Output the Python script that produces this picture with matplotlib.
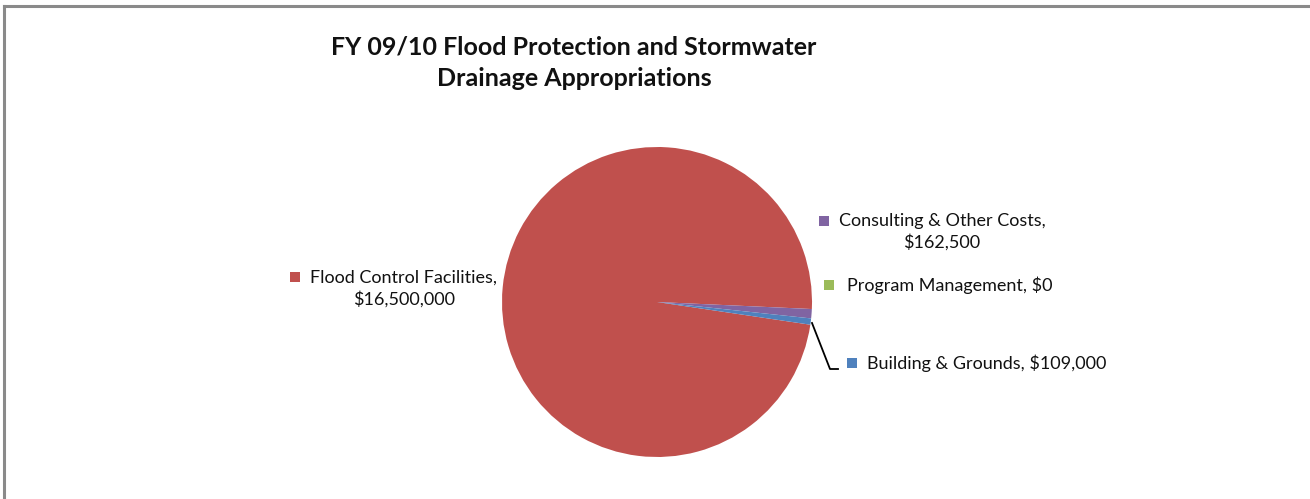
import matplotlib.pyplot as plt
from matplotlib.lines import Line2D
from matplotlib.patches import Rectangle

plt.rcParams['font.family'] = ['Lato', 'DejaVu Sans']

# appropriation lines, in clockwise drawing order
categories = ['Flood Control Facilities', 'Consulting & Other Costs',
              'Program Management', 'Building & Grounds']
amounts = [16500000, 162500, 0, 109000]
colors = ['#C0504D', '#8064A2', '#9BBB59', '#4F81BD']

W, H = 1310, 499
fig = plt.figure(figsize=(W / 100, H / 100), dpi=100)

# outer chart frame (only top and left edges visible)
fig.add_artist(Line2D([4 / W, 1], [1 - 6 / H, 1 - 6 / H], color='#8a8a8a', lw=2.2))
fig.add_artist(Line2D([4 / W, 4 / W], [0, 1 - 6 / H], color='#8a8a8a', lw=2.2))

# pie centred at (657, 302) px with radius 155 px
cx, cy, r = 657, 302, 155
ax = fig.add_axes([(cx - r) / W, (H - cy - r) / H, 2 * r / W, 2 * r / H])
total = sum(amounts)
start = -2.6 + 360 * amounts[0] / total
ax.pie(amounts, colors=colors, startangle=start, counterclock=False,
       radius=1.0, wedgeprops=dict(linewidth=0))
ax.set_xlim(-1, 1)
ax.set_ylim(-1, 1)
ax.set_aspect('auto')
ax.axis('off')

fig.text(574 / W, 1 - 63 / H,
         'FY 09/10 Flood Protection and Stormwater\nDrainage Appropriations',
         ha='center', va='center', fontsize=18, fontweight='bold',
         linespacing=1.45, color='#111111')


def fmt(v):
    return '${:,.0f}'.format(v)


def label(text, tx, ty, mx, my, color):
    fig.text(tx / W, 1 - ty / H, text, ha='center', va='center',
             fontsize=13, linespacing=1.38, color='#111111')
    s = 10
    fig.add_artist(Rectangle((mx / W, 1 - (my + s / 2) / H), s / W, s / H,
                             transform=fig.transFigure, color=color, lw=0))


label(categories[0] + ',\n' + fmt(amounts[0]), 404, 289, 290, 277, colors[0])
label(categories[1] + ',\n' + fmt(amounts[1]), 942, 232, 819, 221, colors[1])
label(categories[2] + ', ' + fmt(amounts[2]), 950, 285, 824, 285, colors[2])
label(categories[3] + ', ' + fmt(amounts[3]), 987, 363, 847, 363, colors[3])

# leader line for the building & grounds slice
fig.add_artist(Line2D([812 / W, 830 / W, 838 / W],
                      [1 - 323 / H, 1 - 369 / H, 1 - 369 / H],
                      color='black', lw=1.3))

fig.savefig('out.png', dpi=100, facecolor='white')
